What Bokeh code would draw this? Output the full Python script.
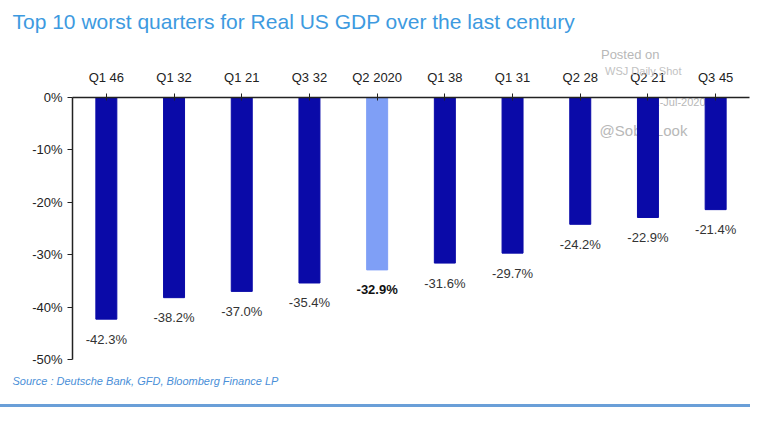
from bokeh.plotting import figure
from bokeh.models import Range1d, FactorRange, Label, Title, PrintfTickFormatter, FixedTicker, CategoricalAxis
from bokeh.core.properties import value
from bokeh.embed import file_html
from bokeh.resources import INLINE

# ---- data ----
quarters = ["Q1 46", "Q1 32", "Q1 21", "Q3 32", "Q2 2020", "Q1 38", "Q1 31", "Q2 28", "Q2 21", "Q3 45"]
gdp_change = [-42.3, -38.2, -37.0, -35.4, -32.9, -31.6, -29.7, -24.2, -22.9, -21.4]
highlight = "Q2 2020"
y_ticks = [0, -10, -20, -30, -40, -50]

title_text = "Top 10 worst quarters for Real US GDP over the last century"
source_text = "Source : Deutsche Bank, GFD, Bloomberg Finance LP"

DARK = "#0a0aa8"
LIGHT = "#7f9ff6"
FONT = "Liberation Sans"

W, H = 750, 407
LEFT, RIGHT, TOP, BOTTOM = 72, 1, 97, 48

p = figure(width=W, height=H, output_backend="svg", toolbar_location=None,
           x_range=FactorRange(*quarters, range_padding=0, factor_padding=0),
           y_range=Range1d(-50, 0), x_axis_location=None,
           min_border_left=LEFT, min_border_right=RIGHT,
           min_border_top=TOP, min_border_bottom=BOTTOM)
p.outline_line_color = None
p.xgrid.visible = False
p.ygrid.visible = False
p.background_fill_color = "white"
p.border_fill_color = "white"

xa = CategoricalAxis()
xa.major_label_text_font = FONT
xa.major_label_text_font_size = "13px"
xa.major_label_text_color = "#222222"
xa.major_label_standoff = 9
xa.major_tick_out = 4
xa.major_tick_in = 3
xa.axis_line_color = "#222222"
xa.major_tick_line_color = "#222222"
xa.axis_line_width = 1.5
p.add_layout(xa, "above")

wm = "#c2c2c2"
p.add_layout(Title(text="WSJ Daily Shot", align="right", offset=68, standoff=-21, text_font=FONT,
                   text_font_size="11px", text_font_style="normal", text_color=wm), "above")
p.add_layout(Title(text="Posted on", align="right", offset=90, text_font=FONT, text_font_size="13px",
                   text_font_style="normal", text_color="#b8b8b8"), "above")
p.add_layout(Title(text=title_text, align="left", offset=-60, standoff=14, text_font=FONT,
                   text_font_size="21px", text_font_style="normal", text_color="#3d9ae0"), "above")
p.add_layout(Title(text=source_text, align="left", offset=-60, standoff=27, text_font=FONT,
                   text_font_size="11px", text_font_style="italic", text_color="#4a8fd8"), "below")

ya = p.yaxis[0]
ya.ticker = FixedTicker(ticks=y_ticks)
ya.formatter = PrintfTickFormatter(format="%d%%")
ya.minor_tick_line_color = None
ya.major_tick_out = 5
ya.major_tick_in = 0
ya.major_label_standoff = 5
ya.major_label_text_font = FONT
ya.major_label_text_font_size = "13px"
ya.major_label_text_color = "#222222"
ya.axis_line_color = "#222222"
ya.axis_line_width = 1.5
ya.major_tick_line_color = "#222222"

# watermark pieces inside the frame (under bars)
for txt, x, y, fs in [("31-Jul-2020", 604, 258, "11px"), ("@SoberLook", 571, 229, "15px")]:
    p.add_layout(Label(x=x, y=y, x_units="screen", y_units="screen", text=txt, text_align="center",
                       text_baseline="middle", text_font=FONT, text_font_size=fs, text_color="#b8b8b8",
                       level="underlay"))

colors = [LIGHT if q == highlight else DARK for q in quarters]
p.vbar(x=quarters, top=0, bottom=gdp_change, width=0.31, fill_color=colors, line_color=colors)

labels = ["%.1f%%" % v for v in gdp_change]
norm = [i for i, q in enumerate(quarters) if q != highlight]
hi = [i for i, q in enumerate(quarters) if q == highlight]
p.text(x=[quarters[i] for i in norm], y=[gdp_change[i] for i in norm], text=[labels[i] for i in norm],
       y_offset=20, text_align="center", text_baseline="middle", text_font=value(FONT),
       text_font_size="13px", text_color="#333333")
p.text(x=[quarters[i] for i in hi], y=[gdp_change[i] for i in hi], text=[labels[i] for i in hi],
       y_offset=20, text_align="center", text_baseline="middle", text_font=value(FONT),
       text_font_size="13px", text_font_style="bold", text_color="#111111")

p.styles = {"border-bottom": "3px solid #6a9fd8"}

open("out.html", "w").write(file_html(p, INLINE))
